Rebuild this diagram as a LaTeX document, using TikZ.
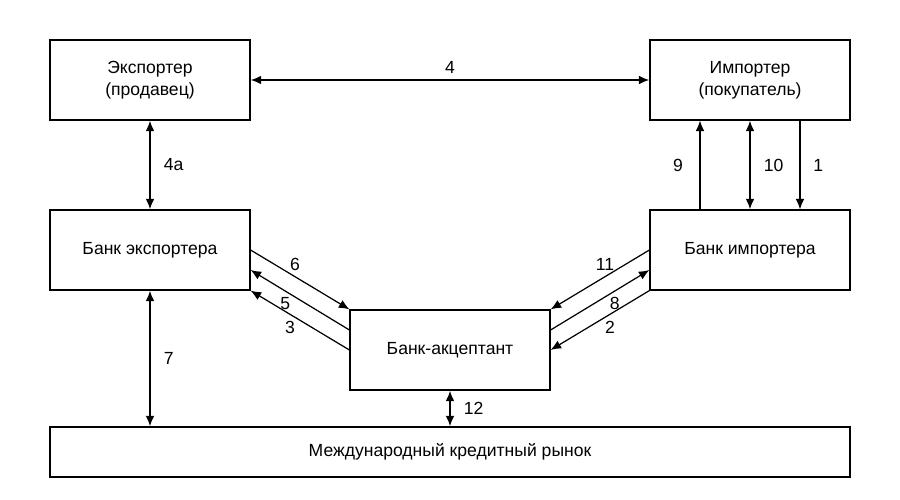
\documentclass[tikz,border=0pt]{standalone}
\usepackage{fontspec}
\setmainfont{Liberation Sans}
\usetikzlibrary{arrows.meta, positioning}

\begin{document}
\begin{tikzpicture}[x=0.02cm, y=-0.02cm,
  box/.style={draw, line width=0.7pt, minimum width=4cm, minimum height=1.6cm,
    inner sep=0pt, align=center, font=\fontsize{10}{12.5}\selectfont},
  lbl/.style={font=\fontsize{10}{12}\selectfont},
  arr/.style={line width=0.7pt, -{Latex[length=6pt, width=5pt]}},
  dbl/.style={line width=1pt, {Latex[length=6pt, width=5pt]}-{Latex[length=6pt, width=5pt]}}]

  \useasboundingbox (0,0) rectangle (900,500);

  % boxes
  \node[box] (exp) at (150,80) {Экспортер\\(продавец)};
  \node[box] (imp) at (750,80) {Импортер\\(покупатель)};
  \node[box] (bexp) at (150,250) {Банк экспортера};
  \node[box] (bimp) at (750,250) {Банк импортера};
  \node[box] (acc) at (450,350) {Банк-акцептант};
  \node[box, minimum width=16cm, minimum height=1cm] (mkt) at (450,452) {Международный кредитный рынок};

  % top row
  \draw[dbl] (exp) -- node[lbl, above] {4} (imp);
  \draw[dbl] (exp) -- node[lbl, right=4pt] {4a} (bexp);

  % importer side
  \draw[arr] ([xshift=-1cm]bimp.north) -- node[lbl, left=6pt] {9} ([xshift=-1cm]imp.south);
  \draw[dbl] (bimp) -- node[lbl, right=4pt] {10} (imp);
  \draw[arr] ([xshift=1cm]imp.south) -- node[lbl, right=4pt] {1} ([xshift=1cm]bimp.north);

  % exporter bank -- acceptor
  \draw[arr] (bexp.east) -- node[lbl, above, pos=0.45] {6} (acc.north west);
  \draw[arr] ([yshift=0.4cm]acc.west) -- node[lbl, below, pos=0.65] {5} ([yshift=-0.4cm]bexp.east);
  \draw[arr] (acc.west) -- node[lbl, below, pos=0.6] {3} (bexp.south east);

  % importer bank -- acceptor
  \draw[arr] (bimp.west) -- node[lbl, above, pos=0.45] {11} (acc.north east);
  \draw[arr] ([yshift=0.4cm]acc.east) -- node[lbl, below, pos=0.65] {8} ([yshift=-0.4cm]bimp.west);
  \draw[arr] (bimp.south west) -- node[lbl, below, pos=0.4] {2} (acc.east);

  % market
  \draw[dbl] (bexp) -- node[lbl, right=4pt] {7} (bexp |- mkt.north);
  \draw[dbl] (acc) -- node[lbl, right=4pt] {12} (acc |- mkt.north);

\end{tikzpicture}
\end{document}
